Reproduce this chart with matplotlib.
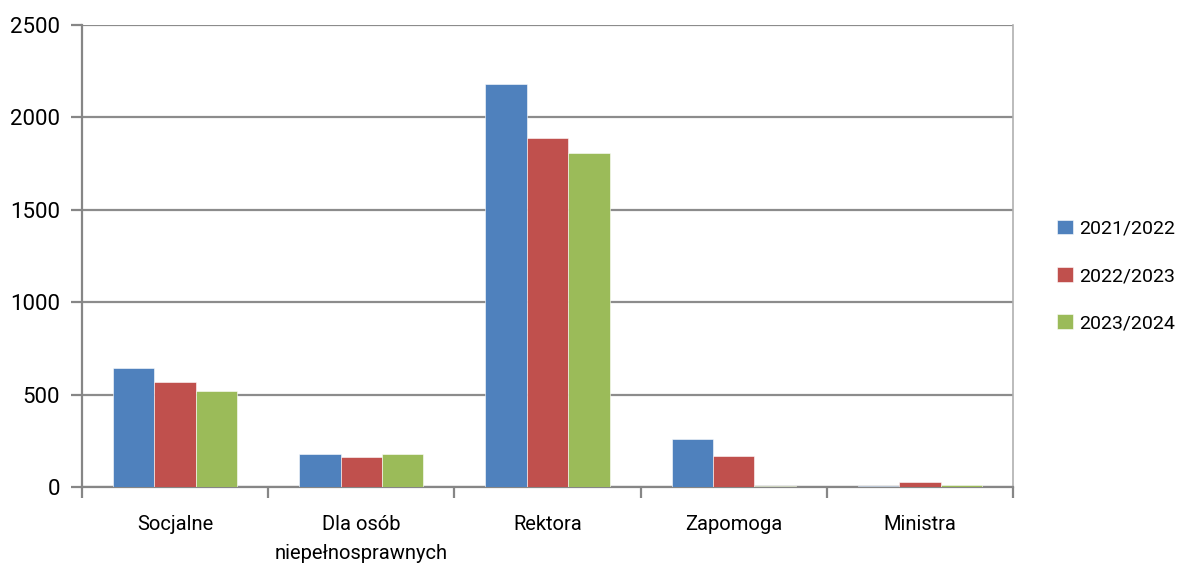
#!/usr/bin/env python3

import numpy as np
from matplotlib import pyplot as plt

plt.rcParams["font.family"] = ["Roboto", "DejaVu Sans"]

categories = ["Socjalne", "Dla osób\nniepełnosprawnych", "Rektora", "Zapomoga", "Ministra"]
series = ["2021/2022", "2022/2023", "2023/2024"]
values_2122 = [645, 176, 2183, 261, 7]
values_2223 = [566, 165, 1891, 168, 25]
values_2324 = [522, 176, 1805, 4, 11]
colors = ["#4f81bd", "#c0504d", "#9bbb59"]

fig = plt.figure(figsize=(11.8, 5.7), dpi=100)
ax = fig.add_axes([82 / 1180, 1 - 487 / 570, (1013 - 82) / 1180, (487 - 25) / 570])

x = np.arange(len(categories))
w = 1 / 4.5
for i, (vals, name) in enumerate(zip([values_2122, values_2223, values_2324], series)):
    ax.bar(x + (i - 1) * w, vals, w, color=colors[i], label=name,
           edgecolor="white", linewidth=0.4, zorder=3)

ax.set_xlim(-0.5, len(categories) - 0.5)
ax.set_ylim(0, 2500)
ax.set_yticks(range(0, 2501, 500))
ax.yaxis.grid(True, color="#8c8c8c", linewidth=1.6, zorder=0)

ax.set_xticks(x)
ax.set_xticklabels(categories, fontsize=14.5, linespacing=1.7)
ax.set_xticks(np.arange(-0.5, len(categories)), minor=True)
ax.tick_params(axis="x", which="major", length=0, pad=20)
ax.tick_params(axis="x", which="minor", length=8, width=1.6, color="#868686")
ax.tick_params(axis="y", length=8, width=1.6, color="#868686", labelsize=16, pad=8)

for s in ["left", "bottom"]:
    ax.spines[s].set_color("#868686")
    ax.spines[s].set_linewidth(1.6)
ax.spines["top"].set_visible(False)
ax.spines["right"].set_color("#b0b0b0")
ax.spines["right"].set_linewidth(1.2)

ax.legend(loc="center left", bbox_to_anchor=(1057 / 1180, 1 - 276 / 570),
          bbox_transform=fig.transFigure, frameon=False,
          fontsize=14, handlelength=0.8, handleheight=0.8,
          handletextpad=0.35, labelspacing=1.5, borderaxespad=0, borderpad=0)

fig.savefig("out.png", dpi=100)
